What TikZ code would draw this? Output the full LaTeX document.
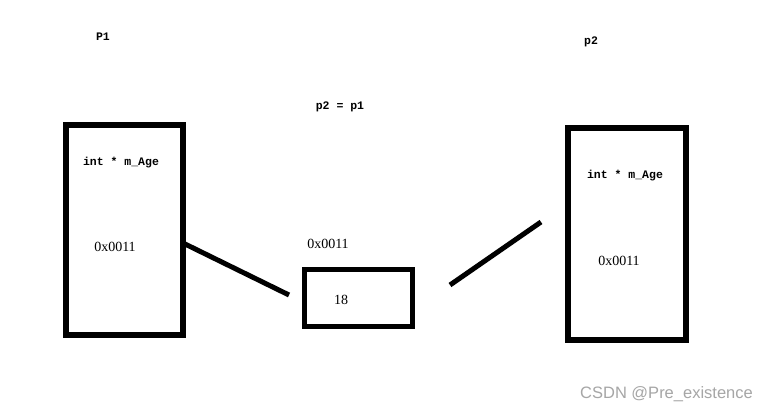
\documentclass[tikz,border=0pt]{standalone}
\usepackage{fontspec}
\setmainfont{Liberation Serif}
\newfontfamily\monofont{Liberation Mono}
\newfontfamily\wmfont{Liberation Sans}
\begin{document}
\begin{tikzpicture}[x=1pt,y=-1pt,
  boxs/.style={draw=black,line width=5.5pt,fill=white},
  lbl/.style={font=\monofont\bfseries\fontsize{11.5}{13}\selectfont,inner sep=0pt},
  addr/.style={font=\fontsize{14}{16}\selectfont,inner sep=0pt},
  link/.style={line width=5pt}]
\useasboundingbox (0,0) rectangle (758,408);
\fill[white] (0,0) rectangle (758,408);
% boxes
\draw[boxs] (66,125) rectangle (183,335);
\draw[boxs] (568,128) rectangle (686,340);
\draw[boxs] (304.5,269.5) rectangle (412.5,326.5);
\coordinate (lbr) at (183,243);
\coordinate (lend) at (289,295);
\coordinate (rs) at (450,285);
\coordinate (re) at (541,222);
\draw[link] (lbr) -- (lend);
\draw[link] (rs) -- (re);
% texts
\node[lbl] (t1) at (103,37) {P1};
\node[lbl] (t2) at (591,42) {p2};
\node[lbl] (t3) at (340,107) {p2 = p1};
\node[lbl] (t4) at (121,163) {int * m\_Age};
\node[lbl] (t5) at (625,176) {int * m\_Age};
\node[addr] (a1) at (115,247) {0x0011};
\node[addr] (a2) at (328,244) {0x0011};
\node[addr] (a3) at (619,261) {0x0011};
\node[addr] (v) at (341,300) {18};
\node[font=\wmfont\fontsize{16.5}{18}\selectfont,text=black!35,inner sep=0pt] (wm) at (666.5,394) {CSDN @Pre\_existence};
\end{tikzpicture}
\end{document}
